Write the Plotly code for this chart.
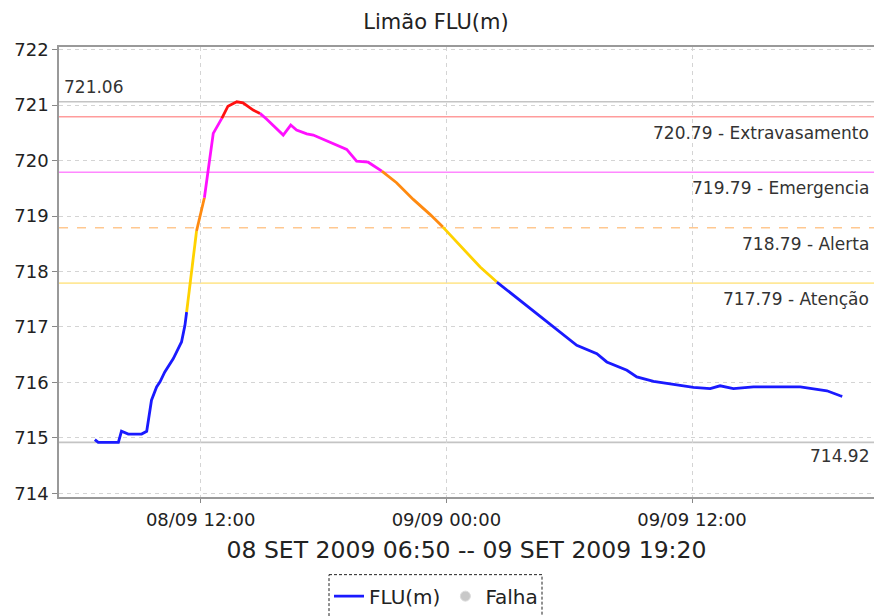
import plotly.graph_objects as go

# ---------------- data ----------------
times = [
    "2009-09-08 06:50", "2009-09-08 07:00", "2009-09-08 07:59", "2009-09-08 08:08",
    "2009-09-08 08:28", "2009-09-08 09:07", "2009-09-08 09:22", "2009-09-08 09:29",
    "2009-09-08 09:36", "2009-09-08 09:51", "2009-09-08 10:01", "2009-09-08 10:15",
    "2009-09-08 10:25", "2009-09-08 10:40", "2009-09-08 10:59", "2009-09-08 11:04",
    "2009-09-08 11:14", "2009-09-08 11:19", "2009-09-08 11:48", "2009-09-08 12:11",
    "2009-09-08 12:22", "2009-09-08 12:37", "2009-09-08 13:02", "2009-09-08 13:14",
    "2009-09-08 13:20", "2009-09-08 13:46", "2009-09-08 14:04", "2009-09-08 14:34",
    "2009-09-08 14:54", "2009-09-08 15:13", "2009-09-08 16:02", "2009-09-08 16:24",
    "2009-09-08 16:41", "2009-09-08 17:11", "2009-09-08 17:30", "2009-09-08 18:14",
    "2009-09-08 19:08", "2009-09-08 19:37", "2009-09-08 20:11", "2009-09-08 20:51",
    "2009-09-08 21:34", "2009-09-08 22:23", "2009-09-08 23:12", "2009-09-08 23:50",
    "2009-09-09 00:50", "2009-09-09 01:39", "2009-09-09 02:28", "2009-09-09 03:36",
    "2009-09-09 04:34", "2009-09-09 05:33", "2009-09-09 06:22", "2009-09-09 07:21",
    "2009-09-09 07:50", "2009-09-09 08:49", "2009-09-09 09:18", "2009-09-09 10:07",
    "2009-09-09 11:25", "2009-09-09 12:04", "2009-09-09 12:53", "2009-09-09 13:22",
    "2009-09-09 14:01", "2009-09-09 15:00", "2009-09-09 17:17", "2009-09-09 18:06",
    "2009-09-09 18:35", "2009-09-09 19:14", "2009-09-09 19:20",
]
levels = [
    714.97, 714.92, 714.92, 715.12,
    715.07, 715.07, 715.12, 715.42,
    715.68, 715.92, 716.01, 716.19,
    716.28, 716.43, 716.67, 716.73,
    717.03, 717.27, 718.73, 719.33,
    719.84, 720.49, 720.76, 720.91,
    720.98, 721.06, 721.04, 720.91,
    720.85, 720.75, 720.46, 720.64,
    720.55, 720.48, 720.46, 720.34,
    720.20, 719.99, 719.97, 719.81,
    719.60, 719.30, 719.03, 718.80,
    718.40, 718.08, 717.81, 717.48,
    717.21, 716.91, 716.67, 716.52,
    716.37, 716.22, 716.10, 716.02,
    715.95, 715.91, 715.89, 715.94,
    715.89, 715.92, 715.92, 715.88,
    715.85, 715.76, 715.75,
]

threshold_values = [720.79, 719.79, 718.79, 717.79]
threshold_names = ["Extravasamento", "Emergencia", "Alerta", "Atenção"]
threshold_line_colors = ["#ff9c9c", "#ff88ff", "#ffc890", "#ffe898"]
threshold_dash = ["solid", "solid", "dash", "solid"]

# curve colour per level band (below lowest threshold ... above highest)
band_colors = ["#1a1aff", "#ffd200", "#ff8a10", "#ff10ff", "#ff1010"]

tick_vals = ["2009-09-08 12:00", "2009-09-09 00:00", "2009-09-09 12:00"]
tick_text = ["08/09 12:00", "09/09 00:00", "09/09 12:00"]
y_ticks = [714, 715, 716, 717, 718, 719, 720, 721, 722]

title_text = "Limão FLU(m)"
period_text = "08 SET 2009 06:50 -- 09 SET 2009 19:20"
series_name = "FLU(m)"
fail_name = "Falha"

# ---------------- figure ----------------
def band(v):
    return sum(1 for t in threshold_values if v > t)

fig = go.Figure()

# group consecutive segments by colour of their end point
segs = []
cur_c = None
cur_x, cur_y = [], []
for i in range(1, len(levels)):
    c = band_colors[band(levels[i])]
    if c != cur_c:
        if cur_c is not None:
            segs.append((cur_c, cur_x, cur_y))
        cur_c = c
        cur_x, cur_y = [times[i - 1]], [levels[i - 1]]
    cur_x.append(times[i])
    cur_y.append(levels[i])
segs.append((cur_c, cur_x, cur_y))

for c, sx, sy in segs:
    fig.add_trace(go.Scatter(
        x=sx, y=sy, mode="lines",
        line=dict(color=c, width=2.8),
        showlegend=False, hoverinfo="skip",
    ))

# legend entries
fig.add_trace(go.Scatter(
    x=[None], y=[None], mode="lines", name=series_name,
    line=dict(color=band_colors[0], width=2.6),
))
fig.add_trace(go.Scatter(
    x=[None], y=[None], mode="markers", name=fail_name,
    marker=dict(color="#c8c8c8", size=10, line=dict(color="#dcdcdc", width=1)),
))

LABEL_FONT = dict(family="DejaVu Sans", size=17, color="#333333")

# threshold lines and labels
for val, name, col, dsh in zip(threshold_values, threshold_names,
                               threshold_line_colors, threshold_dash):
    fig.add_shape(type="line", xref="paper", x0=0, x1=1, yref="y", y0=val, y1=val,
                  line=dict(color=col, width=1.6, dash=dsh), layer="below")
    fig.add_annotation(xref="paper", x=1, yref="y", y=val, xanchor="right",
                       yanchor="middle", yshift=-16, xshift=-3, showarrow=False,
                       text=f"{val:.2f} - {name}", font=LABEL_FONT)

vmax = max(levels)
vmin = min(levels)
for val in (vmax, vmin):
    fig.add_shape(type="line", xref="paper", x0=0, x1=1, yref="y", y0=val, y1=val,
                  line=dict(color="#c4c4c4", width=1.6), layer="below")
fig.add_annotation(xref="paper", x=0, yref="y", y=vmax, xanchor="left",
                   yanchor="middle", yshift=15, xshift=3, showarrow=False,
                   text=f"{vmax:.2f}", font=LABEL_FONT)
fig.add_annotation(xref="paper", x=1, yref="y", y=vmin, xanchor="right",
                   yanchor="middle", yshift=-14, xshift=-3, showarrow=False,
                   text=f"{vmin:.2f}", font=LABEL_FONT)

# dashed legend frame
W, H = 874, 616
ml, mr, mt, mb = 59, 0, 47, 117
pw, ph = W - ml - mr, H - mt - mb
def px2paper_x(px):
    return (px - ml) / pw
def py2paper_y(py):
    return (H - mb - py) / ph

fig.add_shape(type="rect", xref="paper", yref="paper",
              x0=px2paper_x(329), x1=px2paper_x(542),
              y0=py2paper_y(577), y1=py2paper_y(640),
              line=dict(color="#222222", width=1, dash="3px,2px"),
              fillcolor="rgba(0,0,0,0)")

fig.update_layout(
    width=W, height=H,
    margin=dict(l=ml, r=mr, t=mt, b=mb),
    paper_bgcolor="white", plot_bgcolor="white",
    font=dict(family="DejaVu Sans", color="#222222"),
    title=dict(text=title_text, x=px2paper_x(436), xanchor="center", xref="paper",
               y=1 - 22 / H, yanchor="middle",
               font=dict(family="DejaVu Sans", size=21, color="#222222")),
    showlegend=True,
    legend=dict(orientation="h", x=px2paper_x(329), xanchor="left",
                y=py2paper_y(579), yanchor="top",
                font=dict(family="DejaVu Sans", size=20, color="#222222"),
                bgcolor="rgba(0,0,0,0)", borderwidth=0),
)

fig.update_xaxes(
    type="date",
    range=["2009-09-08 05:05", "2009-09-09 20:53"],
    tickvals=tick_vals, ticktext=tick_text,
    tickfont=dict(family="DejaVu Sans", size=18, color="#222222"),
    ticks="outside", ticklen=4, tickcolor="#888888", ticklabelstandoff=2,
    showline=True, linecolor="#999999", linewidth=1.5, mirror=True,
    showgrid=True, gridcolor="#d4d4d4", griddash="4px,4px", gridwidth=1,
    zeroline=False,
    title=dict(text=period_text, standoff=12,
               font=dict(family="DejaVu Sans", size=23.5, color="#222222")),
)
fig.update_yaxes(
    range=[713.935, 722.047],
    tickvals=y_ticks,
    tickfont=dict(family="DejaVu Sans", size=18, color="#222222"),
    ticks="outside", ticklen=5, tickcolor="#888888",
    showline=True, linecolor="#999999", linewidth=1.5,
    showgrid=True, gridcolor="#d4d4d4", griddash="4px,4px", gridwidth=1,
    zeroline=False,
)

fig.write_html("out.html",
               config={"displayModeBar": False},
               post_script="document.body.style.margin='0px';document.body.style.overflow='hidden';")
